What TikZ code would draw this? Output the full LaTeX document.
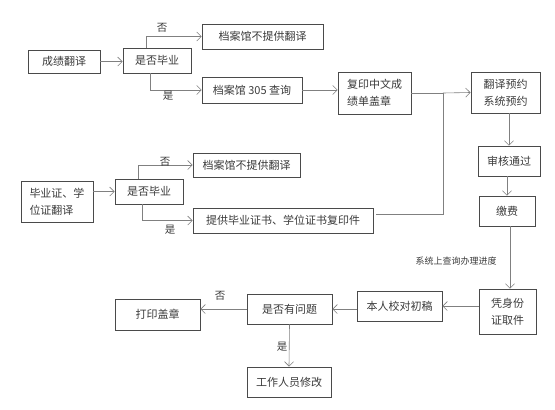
\documentclass[tikz,border=0pt]{standalone}
\usepackage{fontspec}
\newfontfamily\cjk{Noto Sans CJK SC}
\usetikzlibrary{arrows.meta,calc}
\definecolor{boxc}{HTML}{4A4A4A}
\definecolor{linec}{HTML}{808080}
\definecolor{txtc}{HTML}{3A3A3A}
\tikzset{
  box/.style={draw=boxc, line width=0.8pt, inner sep=0pt, align=left, text=txtc,
    font=\cjk\fontsize{11}{17}\selectfont},
  arr/.style={draw=linec, line width=0.6pt, -{Straight Barb[length=4.5pt,width=9pt]}},
  ln/.style={draw=linec, line width=0.6pt},
  lab/.style={text=txtc, font=\cjk\fontsize{10.5}{12}\selectfont, inner sep=0pt},
  slab/.style={text=txtc, font=\cjk\fontsize{9}{10}\selectfont, inner sep=0pt}
}
\newcommand{\bx}[6]{\node[box, minimum width=#4pt, minimum height=#5pt] (#1) at (#2,#3) {#6};}
\begin{document}
\begin{tikzpicture}[x=1pt,y=-1pt]
\useasboundingbox (0,0) rectangle (555,410);
\bx{A}{64}{61.5}{72}{23}{成绩翻译}
\bx{B}{157}{60.5}{68}{25}{是否毕业}
\bx{C}{262.5}{36.5}{121}{25}{档案馆不提供翻译}
\bx{D}{252}{90}{100}{26}{档案馆 305 查询}
\bx{E}{374.5}{93}{73}{42}{复印中文成\\绩单盖章}
\bx{F}{505.5}{92.5}{69}{41}{翻译预约\\系统预约}
\bx{G}{509}{161}{62}{30}{审核通过}
\bx{H}{507}{211}{56}{30}{缴费}
\bx{I}{57}{201.5}{72}{41}{毕业证、学\\位证翻译}
\bx{J}{149}{191.5}{68}{25}{是否毕业}
\bx{K}{246.5}{165}{107}{24}{档案馆不提供翻译}
\bx{L}{283}{220.5}{180}{25}{提供毕业证书、学位证书复印件}
\bx{M}{507.5}{311.5}{57}{45}{凭身份\\证取件}
\bx{N}{399.5}{306}{85}{30}{本人校对初稿}
\bx{O}{289.5}{309}{85}{30}{是否有问题}
\bx{P}{157.5}{314.5}{85}{31}{打印盖章}
\bx{Q}{289}{382}{84}{30}{工作人员修改}
\coordinate (jn) at (443,93);
% top flow
\draw[arr] (A.east) -- (A.east -| B.west);
\draw[arr] ([xshift=-11pt]B.north) |- (C.west);
\draw[arr] ([xshift=-7pt]B.south) |- (D.west);
\draw[arr] (D.east) -- (D.east -| E.west);
\draw[ln] (E.east) -- (jn);
\draw[arr] (jn) -- (F.west);
% second flow
\draw[arr] (I.east |- J.west) -- (J.west);
\draw[arr] ([xshift=-11pt]J.north) |- (K.west);
\draw[arr] ([xshift=-7pt]J.south) |- (L.west);
\draw[ln] ([xshift=3pt,yshift=6pt]L.east) -| (jn);
% right column
\draw[arr] (G.north |- F.south) -- (G.north);
\draw[arr] (G.south -| H.north) -- (H.north);
\draw[arr] ([xshift=3pt]H.south) -- ([xshift=3pt]H.south |- M.north);
% bottom flow
\draw[arr] (M.west |- N.east) -- (N.east);
\draw[arr] (N.west |- O.east) -- (O.east);
\draw[arr] (O.west) -- (O.west -| P.east);
\draw[arr] (O.south) -- (Q.north);
% labels
\node[lab] (l1) at (162,28) {否};
\node[lab] (l2) at (168,96) {是};
\node[lab] (l3) at (165,162) {否};
\node[lab] (l4) at (170,230) {是};
\node[lab] (l5) at (220,296) {否};
\node[lab] (l6) at (282,347) {是};
\node[slab] (l7) at (456,261) {系统上查询办理进度};
\end{tikzpicture}
\end{document}
